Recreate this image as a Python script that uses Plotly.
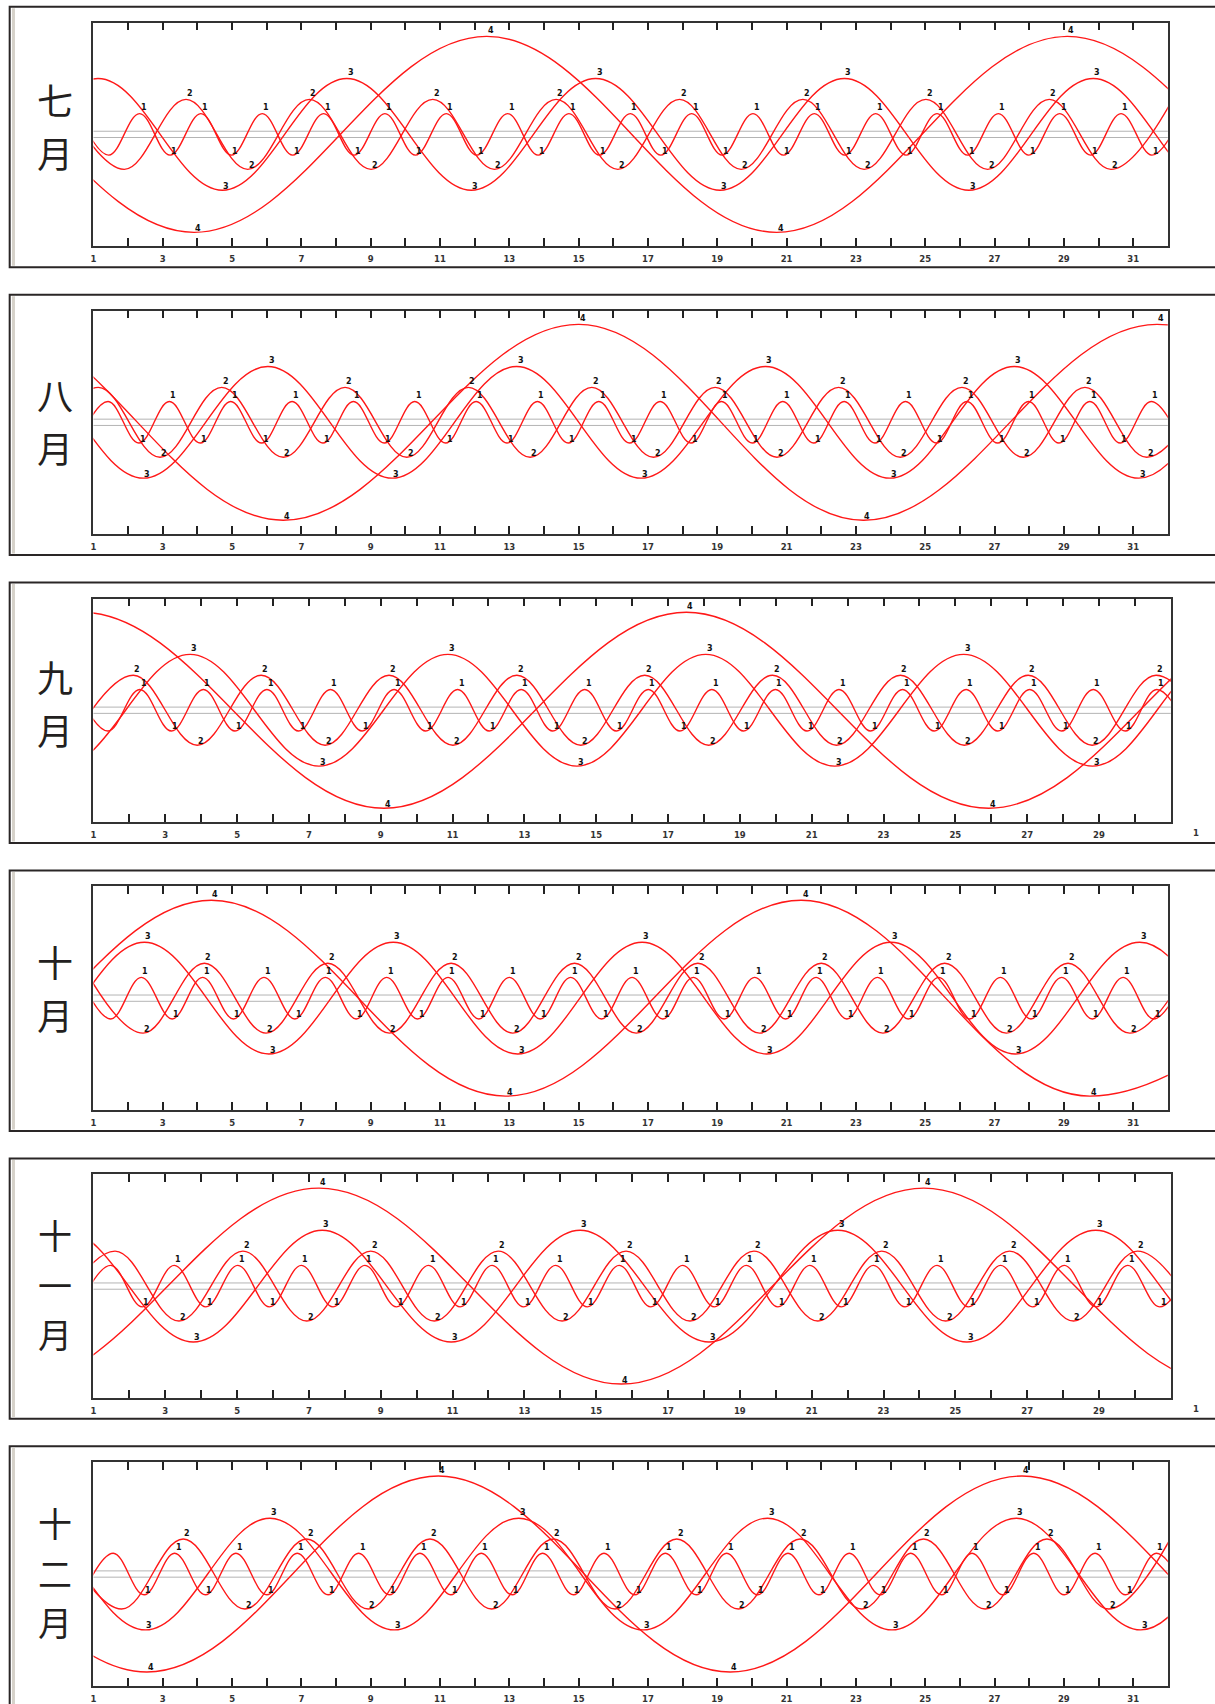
import plotly.graph_objects as go

# ---------------- data ----------------
MONTH_NAMES = [["七", "月"], ["八", "月"], ["九", "月"], ["十", "月"], ["十", "一", "月"], ["十", "二", "月"]]
MONTH_END = [32, 32, 31, 32, 31, 32]          # axis end (day after last day of month)
LAST_LABEL = [31, 31, 29, 31, 29, 31]         # last odd day labelled on the axis
NEXT_MONTH_LABEL = ["", "", "1", "", "1", ""]
CURVE_NAMES = ["1", "2", "3", "4"]
AMPLITUDE = [0.212, 0.357, 0.57, 1.0]

# extremum days of each curve (alternating peak / trough); *_S = sign of first extremum
JUL_C1 = [0.56, 1.44, 2.33, 3.21, 4.10, 4.98, 5.87, 6.75, 7.64, 8.52, 9.41, 10.29, 11.18, 12.06, 12.95, 13.83, 14.72, 15.60, 16.49, 17.37, 18.26, 19.14, 20.03, 20.91, 21.80, 22.68, 23.57, 24.45, 25.34, 26.22, 27.11, 27.99, 28.88, 29.77, 30.65, 31.54, 32.42]
JUL_C2 = [0.11, 1.89, 3.67, 5.45, 7.23, 9.01, 10.79, 12.57, 14.35, 16.13, 17.91, 19.69, 21.47, 23.24, 25.02, 26.80, 28.58, 30.36, 32.14]
JUL_C3 = [-6.05, -2.46, 1.13, 4.72, 8.31, 11.90, 15.49, 19.08, 22.67, 26.26, 29.85, 33.44, 37.03]
JUL_C4 = [-12.90, -4.50, 3.90, 12.35, 20.71, 29.10, 37.50, 45.90]
JUL_S = [1, 1, 1, -1]

AUG_C1 = [0.54, 1.42, 2.31, 3.19, 4.08, 4.96, 5.85, 6.73, 7.62, 8.50, 9.39, 10.27, 11.16, 12.04, 12.93, 13.81, 14.70, 15.58, 16.47, 17.35, 18.24, 19.12, 20.01, 20.89, 21.78, 22.66, 23.55, 24.43, 25.32, 26.20, 27.09, 27.98, 28.86, 29.75, 30.63, 31.52, 32.40]
AUG_C2 = [-0.64, 1.14, 2.92, 4.70, 6.48, 8.26, 10.04, 11.82, 13.60, 15.38, 17.16, 18.94, 20.72, 22.50, 24.28, 26.06, 27.83, 29.61, 31.39, 33.17]
AUG_C3 = [-4.74, -1.15, 2.44, 6.03, 9.62, 13.21, 16.80, 20.39, 23.98, 27.57, 31.16, 34.75, 38.34]
AUG_C4 = [-10.35, -1.93, 6.47, 15.01, 23.21, 31.69, 40.09]
AUG_S = [-1, -1, -1, -1]

SEP_C1 = [0.52, 1.40, 2.29, 3.17, 4.06, 4.94, 5.83, 6.71, 7.60, 8.48, 9.37, 10.25, 11.14, 12.02, 12.91, 13.79, 14.68, 15.56, 16.45, 17.33, 18.22, 19.10, 19.99, 20.87, 21.76, 22.64, 23.53, 24.41, 25.30, 26.18, 27.07, 27.96, 28.84, 29.73, 30.61, 31.50]
SEP_C2 = [0.33, 2.11, 3.89, 5.67, 7.45, 9.23, 11.01, 12.79, 14.57, 16.35, 18.13, 19.91, 21.69, 23.47, 25.25, 27.03, 28.81, 30.59, 32.36]
SEP_C3 = [-7.08, -3.49, 0.10, 3.69, 7.28, 10.87, 14.46, 18.05, 21.64, 25.23, 28.82, 32.41, 36.00]
SEP_C4 = [-7.75, 0.67, 9.09, 17.51, 25.93, 34.35, 42.77]
SEP_S = [1, -1, -1, -1]

OCT_C1 = [0.61, 1.50, 2.38, 3.27, 4.15, 5.04, 5.92, 6.81, 7.69, 8.58, 9.46, 10.35, 11.23, 12.12, 13.00, 13.89, 14.77, 15.66, 16.54, 17.43, 18.31, 19.20, 20.08, 20.97, 21.85, 22.74, 23.62, 24.51, 25.39, 26.28, 27.17, 28.05, 28.94, 29.82, 30.71, 31.59, 32.48]
OCT_C2 = [0.65, 2.43, 4.20, 5.98, 7.76, 9.54, 11.32, 13.10, 14.88, 16.66, 18.44, 20.22, 22.00, 23.78, 25.56, 27.34, 29.12, 30.90, 32.68]
OCT_C3 = [-4.71, -1.12, 2.47, 6.06, 9.65, 13.24, 16.83, 20.42, 24.01, 27.60, 31.19, 34.78, 38.37]
OCT_C4 = [-12.50, -4.05, 4.40, 12.89, 21.43, 29.75, 38.17]
OCT_S = [1, 1, 1, 1]

NOV_C1 = [0.59, 1.48, 2.36, 3.25, 4.13, 5.02, 5.90, 6.79, 7.67, 8.56, 9.44, 10.33, 11.21, 12.10, 12.98, 13.87, 14.75, 15.64, 16.52, 17.41, 18.29, 19.18, 20.06, 20.95, 21.83, 22.72, 23.60, 24.49, 25.37, 26.26, 27.15, 28.03, 28.92, 29.80, 30.69, 31.57]
NOV_C2 = [-0.18, 1.60, 3.38, 5.16, 6.94, 8.72, 10.49, 12.27, 14.05, 15.83, 17.61, 19.39, 21.17, 22.95, 24.73, 26.51, 28.29, 30.07, 31.85]
NOV_C3 = [-6.99, -3.40, 0.19, 3.78, 7.37, 10.96, 14.55, 18.14, 21.73, 25.32, 28.91, 32.50, 36.09]
NOV_C4 = [-9.56, -1.14, 7.28, 15.70, 24.12, 32.54, 40.96]
NOV_S = [-1, -1, 1, 1]

DEC_C1 = [0.69, 1.57, 2.46, 3.34, 4.23, 5.11, 6.00, 6.88, 7.77, 8.65, 9.54, 10.42, 11.31, 12.19, 13.08, 13.96, 14.85, 15.73, 16.62, 17.50, 18.39, 19.27, 20.16, 21.04, 21.93, 22.81, 23.70, 24.58, 25.47, 26.35, 27.24, 28.13, 29.01, 29.90, 30.78, 31.67, 32.55]
DEC_C2 = [0.03, 1.81, 3.59, 5.37, 7.15, 8.93, 10.71, 12.49, 14.27, 16.05, 17.83, 19.61, 21.39, 23.17, 24.95, 26.73, 28.51, 30.29, 32.07]
DEC_C3 = [-4.68, -1.09, 2.50, 6.09, 9.68, 13.27, 16.86, 20.45, 24.04, 27.63, 31.22, 34.81, 38.40]
DEC_C4 = [-14.30, -5.88, 2.54, 10.95, 19.37, 27.79, 36.21, 44.63]
DEC_S = [-1, 1, -1, -1]

MONTH_CURVES = [
    ([JUL_C1, JUL_C2, JUL_C3, JUL_C4], JUL_S),
    ([AUG_C1, AUG_C2, AUG_C3, AUG_C4], AUG_S),
    ([SEP_C1, SEP_C2, SEP_C3, SEP_C4], SEP_S),
    ([OCT_C1, OCT_C2, OCT_C3, OCT_C4], OCT_S),
    ([NOV_C1, NOV_C2, NOV_C3, NOV_C4], NOV_S),
    ([DEC_C1, DEC_C2, DEC_C3, DEC_C4], DEC_S),
]

# ---------------- layout constants ----------------
W, H = 1215, 1704
PANEL_TOP0, PANEL_STEP, PANEL_H = 6.7, 288.1, 260.6
PLOT_LEFT = 90.7
PLOT_TOP_OFF, PLOT_BOT_OFF = 16.0, 239.5
Y_RANGE = 1.14
NAME_CENTER = [119, 126, 120, 117, 126, 126]   # vertical centre of the month name block (from panel top)
NAME_SIZE = [36, 36, 36, 36, 34, 34]
NAME_STEP = [52.5, 52.5, 52.5, 52.5, 49.5, 49.5]
RED = "#ff1818"


def px_x(v):
    return v / W


def px_y(v):
    return 1 - v / H


fig = go.Figure()
shapes, annotations = [], []
layout_axes = {}

for i in range(6):
    n = i + 1
    xname = "x" if n == 1 else f"x{n}"
    yname = "y" if n == 1 else f"y{n}"
    end = MONTH_END[i]
    top = PANEL_TOP0 + PANEL_STEP * i
    ptop, pbot = top + PLOT_TOP_OFF, top + PLOT_BOT_OFF
    right = 1167.7 if end == 32 else 1170.7

    ticks = list(range(1, end))
    ticktext = [str(d) if (d % 2 == 1 and d <= LAST_LABEL[i]) else "" for d in ticks]

    layout_axes[("xaxis" if n == 1 else f"xaxis{n}")] = dict(
        domain=[px_x(PLOT_LEFT), px_x(right)], range=[1, end], anchor=yname,
        showline=True, mirror="ticks", linecolor="#333333", linewidth=1.6,
        ticks="inside", ticklen=8, tickwidth=1.5, tickcolor="#222222",
        tickmode="array", tickvals=ticks, ticktext=ticktext,
        tickfont=dict(family="DejaVu Sans", size=8.5, color="#333333", weight="bold"),
        ticklabelstandoff=4, showgrid=False, zeroline=False, fixedrange=True,
    )
    layout_axes[("yaxis" if n == 1 else f"yaxis{n}")] = dict(
        domain=[px_y(pbot), px_y(ptop)], range=[-Y_RANGE, Y_RANGE], anchor=xname,
        showline=True, mirror=True, linecolor="#333333", linewidth=1.6,
        ticks="", showticklabels=False, showgrid=False, zeroline=False, fixedrange=True,
    )

    # central grey double line
    for yv in (-0.032, 0.032):
        shapes.append(dict(type="line", xref=f"{xname} domain", yref=yname, x0=0, x1=1,
                           y0=yv, y1=yv, line=dict(color="#b4b4b4", width=1), layer="below"))

    # outer panel frame
    shapes.append(dict(type="rect", xref="paper", yref="paper", x0=px_x(6.7), x1=1.02,
                       y0=px_y(top + PANEL_H), y1=px_y(top), line=dict(color="#2a2626", width=2)))
    shapes.append(dict(type="line", xref="paper", yref="paper", x0=px_x(10.5), x1=px_x(10.5),
                       y0=px_y(top + PANEL_H - 1.5), y1=px_y(top + 1.5),
                       line=dict(color="#d6d2ca", width=3)))

    # month name, one character per line
    chars = MONTH_NAMES[i]
    first = NAME_CENTER[i] - NAME_STEP[i] * (len(chars) - 1) / 2
    for j, ch in enumerate(chars):
        annotations.append(dict(xref="paper", yref="paper", x=px_x(52),
                                y=px_y(top + first + j * NAME_STEP[i]),
                                text=ch, showarrow=False, xanchor="center", yanchor="middle",
                                font=dict(family="Noto Sans CJK SC", size=NAME_SIZE[i],
                                          color="#231f20")))

    if NEXT_MONTH_LABEL[i]:
        annotations.append(dict(xref="paper", yref="paper", x=px_x(1196), y=px_y(pbot + 11.5),
                                text=NEXT_MONTH_LABEL[i], showarrow=False, xanchor="center",
                                yanchor="middle",
                                font=dict(family="DejaVu Sans", size=8.5, color="#333333",
                                          weight="bold")))

    curves, signs = MONTH_CURVES[i]
    for k in range(4):
        days = curves[k]
        ys = []
        s = signs[k]
        for d in days:
            ys.append(s * AMPLITUDE[k])
            if 2.0 <= d <= end:
                annotations.append(dict(xref=xname, yref=yname, x=d, y=s * AMPLITUDE[k],
                                        text=CURVE_NAMES[k], showarrow=False,
                                        xanchor="center", yanchor="middle",
                                        xshift=4, yshift=6 if s > 0 else 4,
                                        font=dict(family="DejaVu Sans", size=8, color="#111111",
                                                  weight="bold")))
            s = -s
        fig.add_trace(go.Scatter(x=days, y=ys, mode="lines", xaxis=xname, yaxis=yname,
                                 line=dict(color=RED, width=1.4, shape="spline", smoothing=1.1),
                                 hoverinfo="skip", showlegend=False))

fig.update_layout(
    width=W, height=H, margin=dict(l=0, r=0, t=0, b=0),
    paper_bgcolor="white", plot_bgcolor="white", showlegend=False,
    shapes=shapes, annotations=annotations, **layout_axes,
)

fig.write_html("out.html", config={"displayModeBar": False},
               post_script="document.body.style.margin='0';")
